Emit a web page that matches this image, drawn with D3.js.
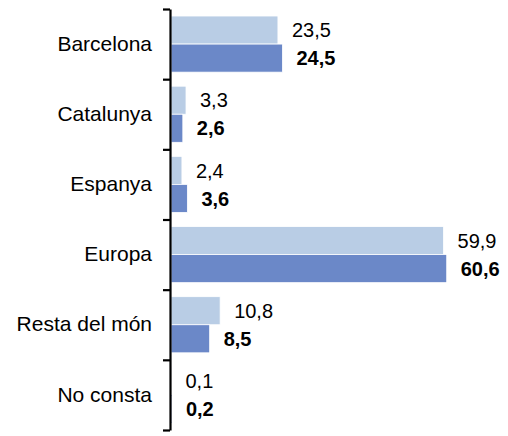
<!DOCTYPE html>
<html>
<head>
<meta charset="utf-8">
<script src="https://cdn.jsdelivr.net/npm/d3@7"></script>
<style>
  body { margin: 0; background: #fff; }
  text { font-family: "Liberation Sans", Arial, sans-serif; }
</style>
</head>
<body>
<div id="chart"></div>
<script>
var categories = ['Barcelona', 'Catalunya', 'Espanya', 'Europa', 'Resta del món', 'No consta'];
var series = ['a', 'b'];
var valuesA = [23.5, 3.3, 2.4, 59.9, 10.8, 0.1];
var valuesB = [24.5, 2.6, 3.6, 60.6, 8.5, 0.2];
var colors = ['#b9cde5', '#6b88c8'];

var margin = {top: 9, right: 18, bottom: 6, left: 171}
    , width = 508 - margin.left - margin.right
    , height = 436 - margin.top - margin.bottom;

var data = [];
for (var i = 0; i < categories.length; i ++) {
    data.push({cat: categories[i], a: valuesA[i], b: valuesB[i]});
}

var x = d3.scaleLinear()
    .domain([0, 70])
    .range([0, 318.5]);

var y = d3.scaleBand()
    .domain(categories)
    .range([0, height])
    .padding(0);

var ySub = d3.scaleBand()
    .domain(series)
    .range([0, y.bandwidth()])
    .paddingOuter(0.25)
    .paddingInner(0);

// boundaries between categories for the tick marks
var yEdge = d3.scaleLinear()
    .domain([0, categories.length])
    .range([0, height]);

var svg = d3.select('#chart')
    .append('svg')
    .attr('width', 508)
    .attr('height', 436);

var main = svg.append('g')
    .attr('transform', 'translate(' + margin.left + ',' + margin.top + ')');

var groups = main.selectAll('g.cat')
    .data(data)
    .enter()
    .append('g')
    .attr('class', 'cat')
    .attr('transform', function (d) { return 'translate(0,' + y(d.cat) + ')'; });

series.forEach(function (s, si) {
    groups.append('rect')
        .attr('x', x(0))
        .attr('y', ySub(s))
        .attr('width', function (d) { return x(d[s]) - x(0); })
        .attr('height', ySub.bandwidth())
        .attr('fill', colors[si])
        .attr('stroke', '#fff')
        .attr('stroke-width', 0.8);

    groups.append('text')
        .attr('x', function (d) { return x(d[s]) + 14; })
        .attr('y', ySub(s) + ySub.bandwidth() / 2)
        .attr('dy', '0.36em')
        .attr('font-size', 20)
        .attr('font-weight', si == 1 ? 'bold' : 'normal')
        .attr('fill', '#000')
        .text(function (d) { return d3.format('.1f')(d[s]).replace('.', ','); });
});

// axis line with ticks at category boundaries
var edgeAxis = d3.axisLeft(yEdge)
    .tickValues(d3.range(categories.length + 1))
    .tickSize(7)
    .tickSizeOuter(0)
    .tickFormat('');

var ax = main.append('g')
    .attr('transform', 'translate(-1,0)')
    .call(edgeAxis);
ax.selectAll('path, line').attr('stroke', '#000').attr('stroke-width', 2.2);

// category labels
var labelAxis = d3.axisLeft(y)
    .tickSize(0)
    .tickPadding(19);

var lab = main.append('g')
    .call(labelAxis);
lab.select('.domain').remove();
lab.selectAll('text')
    .attr('font-size', 21)
    .attr('fill', '#000')
    .style('font-family', '"Liberation Sans", Arial, sans-serif');
</script>
</body>
</html>
